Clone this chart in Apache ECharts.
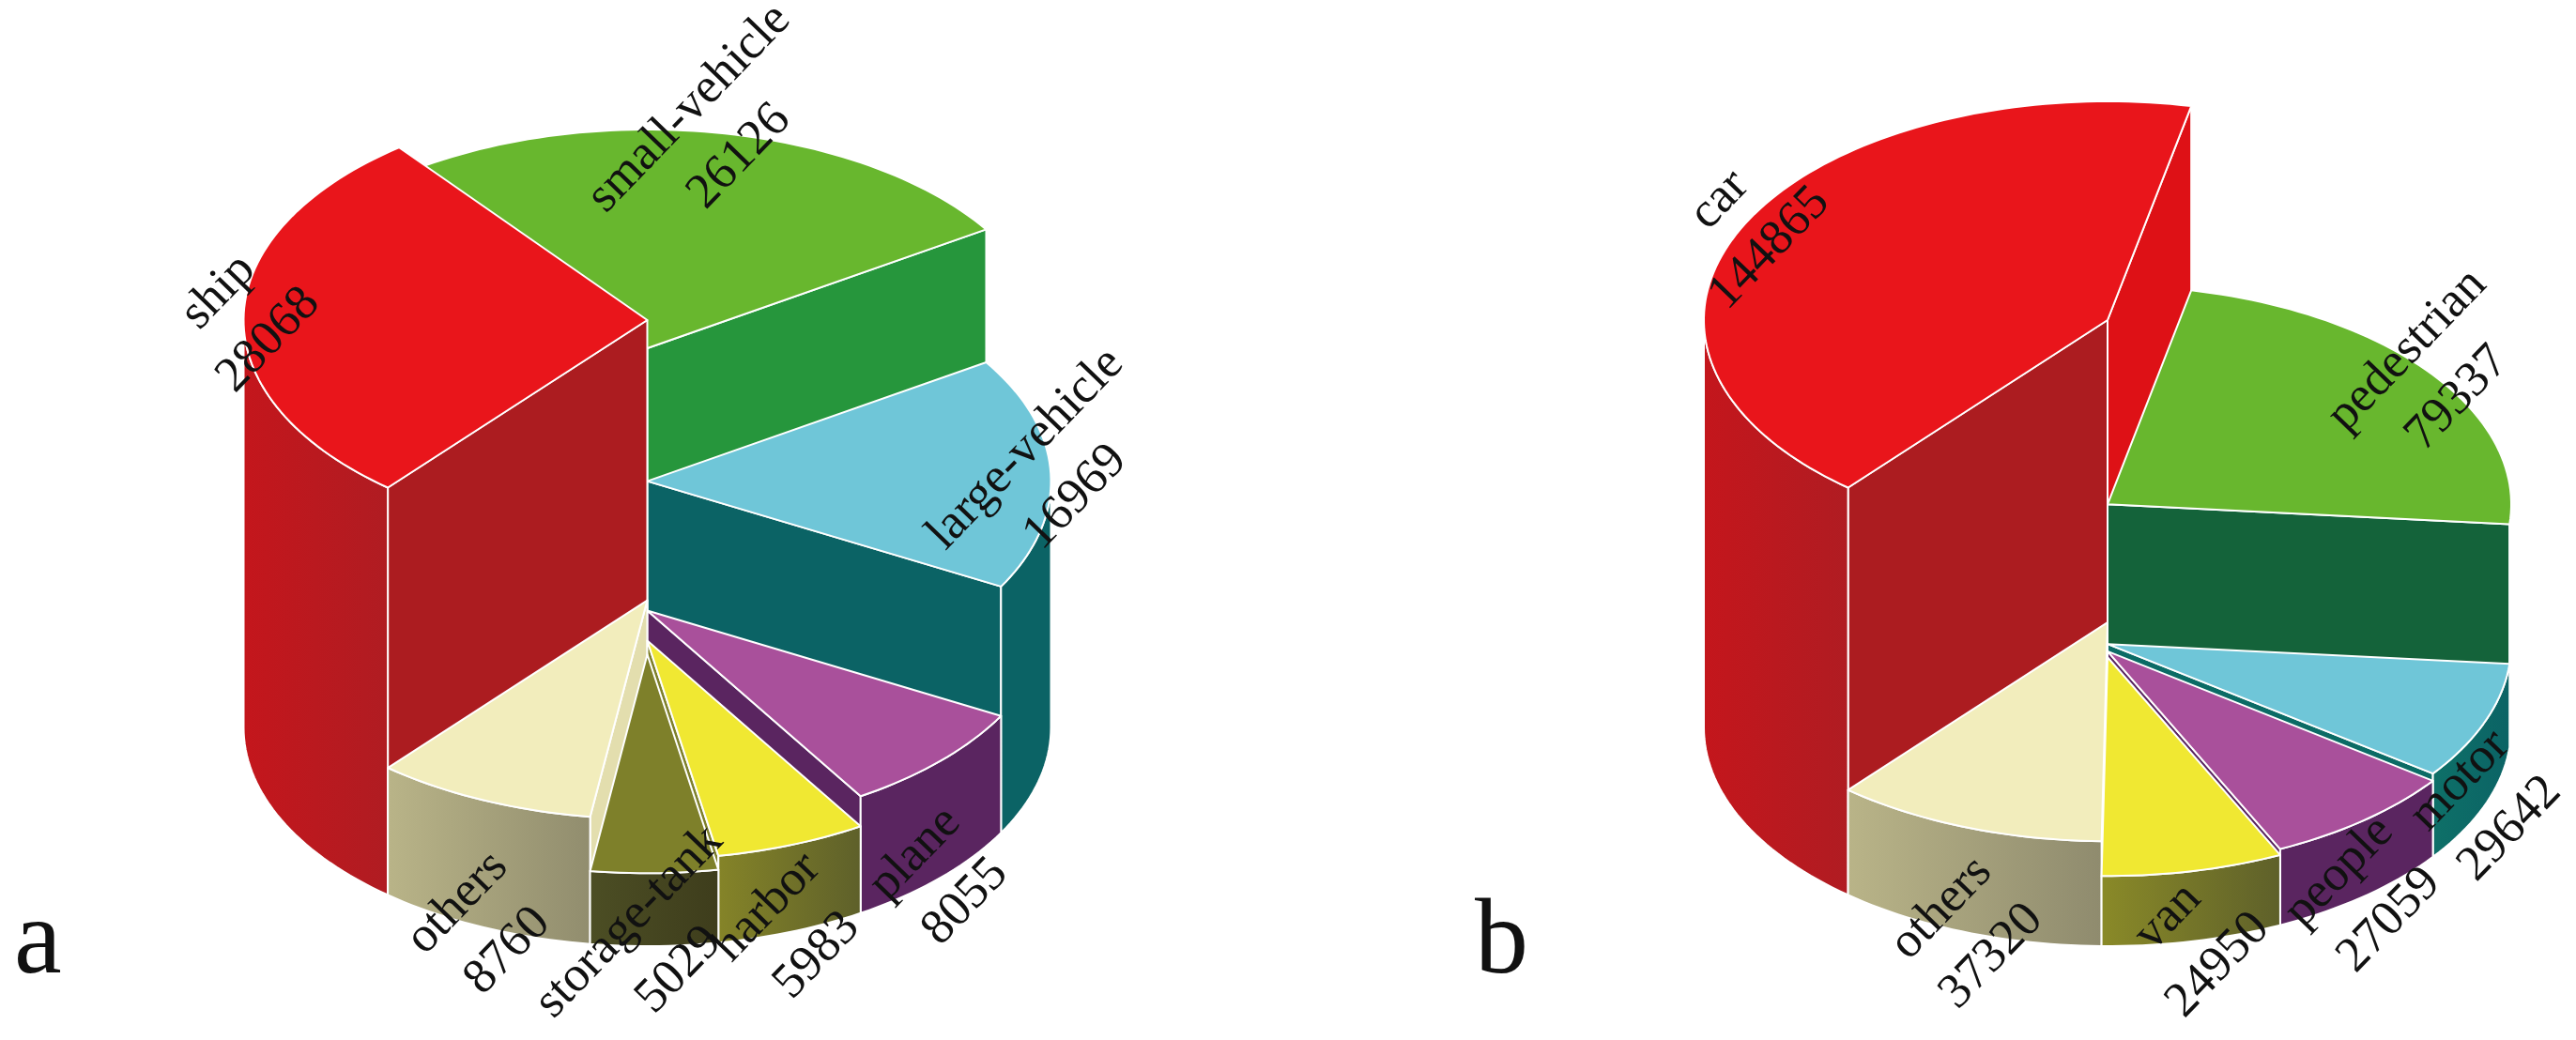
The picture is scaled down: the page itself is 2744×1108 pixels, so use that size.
<!DOCTYPE html>
<html>
<head>
<meta charset="utf-8">
<style>
html, body { margin: 0; padding: 0; background: #fff; }
#chart { width: 2744px; height: 1108px; }
</style>
<script src="https://cdn.jsdelivr.net/npm/echarts@6/dist/echarts.min.js"></script>
</head>
<body>
<div id="chart"></div>
<script>
// panel a
var namesA = ['ship', 'small-vehicle', 'large-vehicle', 'plane', 'harbor', 'storage-tank', 'others'];
var valuesA = [28068, 26126, 16969, 8055, 5983, 5029, 8760];
// panel b
var namesB = ['car', 'pedestrian', 'motor', 'people', 'van', 'others'];
var valuesB = [144865, 79337, 29642, 27059, 24950, 37320];

// colours: top, start face, end face, outer wall left, outer wall right
var stylesA = [
    ['#e9151b', '#ac1c20', '#ac1c20', '#c4161c', '#b01c22'],
    ['#68b72e', '#26963c', '#26963c', '#26963c', '#26963c'],
    ['#6fc6d8', '#0b6365', '#0b6365', '#0b6365', '#0b6365'],
    ['#a9509b', '#5a2560', '#5a2560', '#5a2560', '#5a2560'],
    ['#f0e832', '#7e802a', '#7e802a', '#858428', '#5e602a'],
    ['#7e802a', '#4a4c22', '#8a8a60', '#4c4e24', '#3e3d1c'],
    ['#f2edbc', '#e3deae', '#e3deae', '#b9b488', '#918d6e']
];
var stylesB = [
    ['#e9151b', '#ac1c20', '#de1116', '#c4161c', '#b01c22'],
    ['#68b72e', '#14633a', '#14633a', '#14633a', '#14633a'],
    ['#6fc6d8', '#0b6b65', '#0b6b65', '#0e7068', '#0b6365'],
    ['#a9509b', '#5a2560', '#5a2560', '#5a2560', '#5a2560'],
    ['#f0e832', '#8a8a28', '#8a8a28', '#8a8a28', '#5e602a'],
    ['#f2edbc', '#e3deae', '#e3deae', '#b9b488', '#8f8b6e']
];

var START_ANGLE = 220;
var RX = 430, RY = 233, MAX_H = 434, BASE_Y = 775;
var CENTER_A = 689.5, CENTER_B = 2245;
var LABEL_FONT = 53, LABEL_LINE = 74, LABEL_ROT = 46;

var chart = echarts.init(document.getElementById('chart'));

// bearing is clockwise from the back of the pie, as seen on screen
function getSlices(values) {
    var total = values.reduce(function (a, b) { return a + b; }, 0);
    var angle = START_ANGLE;
    return values.map(function (v, i) {
        var s = { index: i, value: v, start: angle, end: angle + v / total * 360 };
        angle = s.end;
        while (s.start >= 360) { s.start -= 360; s.end -= 360; }
        s.mid = (s.start + s.end) / 2;
        return s;
    });
}

// back slices first so the front ones overlap them
function paintOrder(slices) {
    function rank(s) {
        if (s.end > 360) return -1;
        var m = s.mid % 360;
        return Math.min(m, 360 - m);
    }
    return slices.slice().sort(function (a, b) { return rank(a) - rank(b); });
}

function rad(d) { return d * Math.PI / 180; }

function makeWedgeItem(slices, styles, maxVal) {
    var squash = maxVal * RY / MAX_H;
    return function (params, api) {
        var s = slices[api.value(2)];
        var st = styles[s.index];
        var h = s.value;

        function pt(bearing, r, z) {
            return api.coord([r * Math.sin(rad(bearing)), z + r * Math.cos(rad(bearing)) * squash]);
        }
        function arc(a, b, z) {
            var pts = [];
            var n = Math.max(2, Math.ceil(Math.abs(b - a) / 1.5));
            for (var i = 0; i <= n; i++) pts.push(pt(a + (b - a) * i / n, 1, z));
            return pts;
        }
        function poly(points, fill) {
            return {
                type: 'polygon',
                shape: { points: points },
                style: { fill: fill, stroke: '#fff', lineWidth: 2, lineJoin: 'round' }
            };
        }
        function radial(bearing, fill) {
            return poly([pt(bearing, 0, 0), pt(bearing, 1, 0), pt(bearing, 1, h), pt(bearing, 0, h)], fill);
        }

        var children = [];
        if (Math.sin(rad(s.start)) < 0) children.push(radial(s.start, st[1]));
        if (Math.sin(rad(s.end)) > 0) children.push(radial(s.end, st[2]));

        // outer wall, only the part that faces the viewer
        var a = Math.max(s.start, 90), b = Math.min(s.end, 270);
        if (a >= 270 || b <= 90) { a = Math.max(s.start, 450); b = Math.min(s.end, 630); }
        if (b > a) {
            var wall = arc(a, b, h).concat(arc(b, a, 0));
            children.push(poly(wall, new echarts.graphic.LinearGradient(0, 0, 1, 0, [
                { offset: 0, color: st[3] },
                { offset: 1, color: st[4] }
            ])));
        }

        children.push(poly([pt(s.start, 0, h)].concat(arc(s.start, s.end, h)), st[0]));
        return { type: 'group', children: children };
    };
}

function makeLabelItem(slices, names, maxVal) {
    var squash = maxVal * RY / MAX_H;
    return function (params, api) {
        var s = slices[api.value(2)];
        var m = s.mid % 360;
        var z = (m > 90 && m < 270) ? 0 : s.value;
        var p = api.coord([Math.sin(rad(m)), z + Math.cos(rad(m)) * squash]);
        return {
            type: 'text',
            x: p[0],
            y: p[1],
            rotation: rad(LABEL_ROT),
            style: {
                text: names[s.index] + '\n' + s.value,
                x: 0,
                y: 0,
                align: 'center',
                verticalAlign: 'middle',
                lineHeight: LABEL_LINE,
                fill: '#111',
                font: LABEL_FONT + 'px "Liberation Serif"'
            }
        };
    };
}

function panelSeries(names, values, styles, axisIndex) {
    var slices = getSlices(values);
    var maxVal = Math.max.apply(null, values);
    var ordered = paintOrder(slices).map(function (s) { return [0, s.value, s.index]; });
    var labels = slices.map(function (s) { return [0, s.value, s.index]; });
    return [
        {
            type: 'custom',
            xAxisIndex: axisIndex,
            yAxisIndex: axisIndex,
            renderItem: makeWedgeItem(slices, styles, maxVal),
            data: ordered,
            z: 2,
            silent: true,
            animation: false
        },
        {
            type: 'custom',
            xAxisIndex: axisIndex,
            yAxisIndex: axisIndex,
            renderItem: makeLabelItem(slices, names, maxVal),
            data: labels,
            z: 3,
            silent: true,
            animation: false
        }
    ];
}

function yRange(values) {
    var maxVal = Math.max.apply(null, values);
    var squash = maxVal * RY / MAX_H;
    return { type: 'value', min: -squash, max: maxVal + squash, show: false, gridIndex: 0 };
}

var yA = yRange(valuesA);
var yB = yRange(valuesB);
yB.gridIndex = 1;

var gridTop = BASE_Y - MAX_H - RY;
var gridHeight = MAX_H + 2 * RY;

var option = {
    backgroundColor: '#fff',
    animation: false,
    title: [
        { text: 'a', left: 10, top: 944, textStyle: { fontFamily: 'Liberation Serif', fontWeight: 'normal', fontSize: 114, color: '#111' } },
        { text: 'b', left: 1566, top: 944, textStyle: { fontFamily: 'Liberation Serif', fontWeight: 'normal', fontSize: 114, color: '#111' } }
    ],
    grid: [
        { left: CENTER_A - RX, top: gridTop, width: 2 * RX, height: gridHeight },
        { left: CENTER_B - RX, top: gridTop, width: 2 * RX, height: gridHeight }
    ],
    xAxis: [
        { type: 'value', min: -1, max: 1, show: false, gridIndex: 0 },
        { type: 'value', min: -1, max: 1, show: false, gridIndex: 1 }
    ],
    yAxis: [yA, yB],
    series: panelSeries(namesA, valuesA, stylesA, 0).concat(panelSeries(namesB, valuesB, stylesB, 1))
};

chart.setOption(option);
</script>
</body>
</html>
